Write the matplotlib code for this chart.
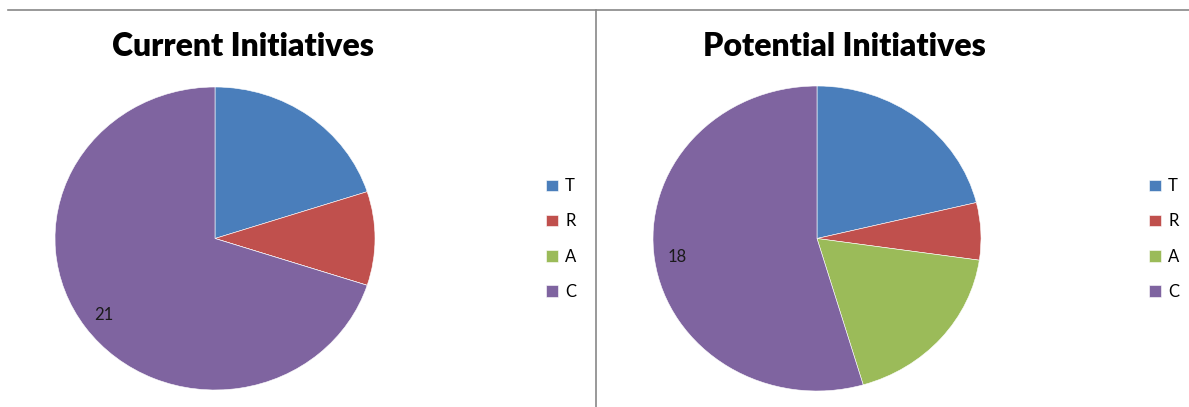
import matplotlib
matplotlib.use("Agg")
import matplotlib.pyplot as plt
from matplotlib.lines import Line2D

# data
categories = ["T", "R", "A", "C"]
current_vals = [6, 3, 0, 21]
potential_vals = [7, 2, 6, 18]
colors = ["#4A7EBB", "#C0504D", "#9BBB59", "#7F64A0"]

W, H = 1189, 407
fig = plt.figure(figsize=(W / 100, H / 100), dpi=100)
plt.rcParams['font.family'] = ['Lato', 'DejaVu Sans']


def draw_pie(vals, title, box, title_xy, legend_xy):
    # box = (left, top, right, bottom) in pixels
    l, t, r, b = box
    ax = fig.add_axes([l / W, 1 - b / H, (r - l) / W, (b - t) / H])
    labels = [str(v) if c == "C" else "" for c, v in zip(categories, vals)]
    wedges, texts = ax.pie(vals, colors=colors, startangle=90, counterclock=False,
                           labels=labels, labeldistance=0.86,
                           wedgeprops=dict(edgecolor="white", linewidth=0.4),
                           textprops=dict(fontsize=12, color="#1a1a1a"))
    for tx in texts:
        tx.set_ha("center")
        tx.set_va("center")
    ax.set_aspect("auto")
    ax.set_xlim(-1, 1)
    ax.set_ylim(-1, 1)
    fig.text(title_xy[0] / W, 1 - title_xy[1] / H, title, ha="center", va="center",
             fontsize=23, fontweight="heavy")
    fig.legend(wedges, categories, loc="center left",
               bbox_to_anchor=(legend_xy[0] / W, 1 - legend_xy[1] / H),
               frameon=False, fontsize=12, handlelength=0.7, handleheight=0.7,
               handletextpad=0.45, labelspacing=1.15, borderpad=0, borderaxespad=0)


draw_pie(current_vals, "Current Initiatives", (55, 87, 375, 390), (243, 46), (546, 239))
draw_pie(potential_vals, "Potential Initiatives", (653, 86, 981, 391), (844, 46), (1149, 239))

# frame lines
fig.add_artist(Line2D([8 / W, 1], [1 - 10 / H, 1 - 10 / H], color="#888888", lw=1.2))
fig.add_artist(Line2D([596 / W, 596 / W], [1 - 10 / H, 0], color="#888888", lw=1.2))

fig.savefig("out.png", dpi=100)
